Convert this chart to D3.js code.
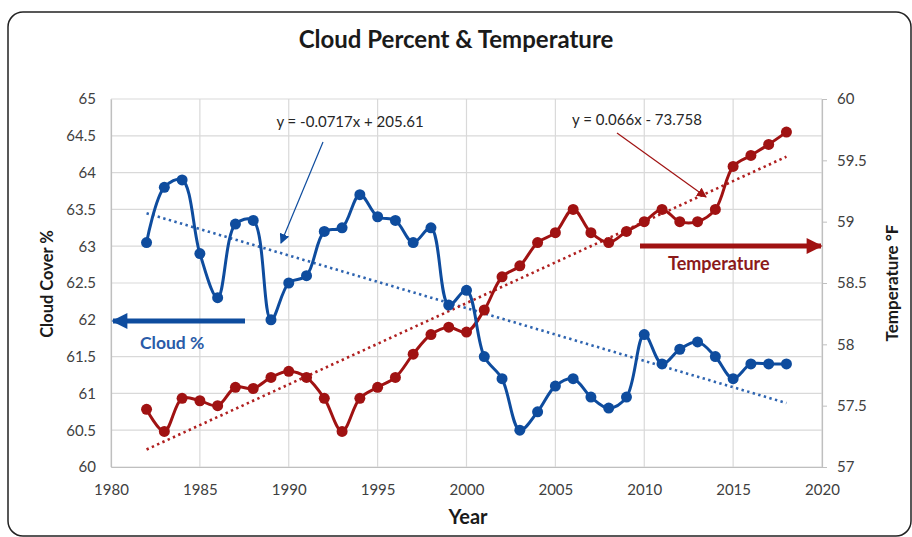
<!DOCTYPE html>
<html><head><meta charset="utf-8">
<script src="https://cdn.jsdelivr.net/npm/d3@7/dist/d3.min.js"></script>
<style>body{margin:0;background:#fff}svg{display:block}</style>
</head><body>
<svg id="c" width="912" height="537"></svg>
<script>
const years = d3.range(1982, 2019);
const cloud = [63.05,63.8,63.9,62.9,62.3,63.3,63.35,62.0,62.5,62.6,63.2,63.25,63.7,63.4,63.35,63.05,63.25,62.2,62.4,61.5,61.2,60.5,60.75,61.1,61.2,60.95,60.8,60.95,61.8,61.4,61.6,61.7,61.5,61.2,61.4,61.4,61.4];
const temp = [57.47,57.29,57.56,57.54,57.5,57.65,57.64,57.73,57.78,57.73,57.56,57.29,57.56,57.65,57.73,57.92,58.08,58.14,58.1,58.28,58.55,58.64,58.83,58.91,59.1,58.91,58.83,58.92,59.0,59.1,59.0,59.0,59.1,59.45,59.54,59.63,59.73];
const xTicks = [1980,1985,1990,1995,2000,2005,2010,2015,2020];
const leftTicks = [60,60.5,61,61.5,62,62.5,63,63.5,64,64.5,65];
const rightTicks = [57,57.5,58,58.5,59,59.5,60];
const title = "Cloud Percent & Temperature";
const cloudEq = "y = -0.0717x + 205.61";
const tempEq = "y = 0.066x - 73.758";

const blue = "#0E4C9E", red = "#A01212";
const svg = d3.select("#c");
const L = 111, R = 822, T = 99, B = 467;
const x = d3.scaleLinear().domain([1980,2020]).range([L,R]);
const yL = d3.scaleLinear().domain([60,65]).range([B,T]);
const yR = d3.scaleLinear().domain([57,60]).range([B,T]);
const font = "Lato, 'Open Sans', sans-serif";

// outer frame
svg.append("rect").attr("x",8).attr("y",12).attr("width",903).attr("height",524).attr("rx",15)
  .attr("fill","#fff").attr("stroke","#222").attr("stroke-width",1.5);

const defs = svg.append("defs");
function marker(id, color, w, h){
  defs.append("marker").attr("id",id).attr("viewBox","0 0 10 10").attr("refX",9).attr("refY",5)
    .attr("markerWidth",w).attr("markerHeight",h).attr("markerUnits","userSpaceOnUse").attr("orient","auto")
    .append("path").attr("d","M0,0L10,5L0,10z").attr("fill",color);
}
marker("ab", blue, 10, 10); marker("ar", red, 10, 10);
marker("abB", blue, 20, 16); marker("arB", red, 20, 16);

// grid
svg.append("g").selectAll("line").data(leftTicks).join("line")
  .attr("x1",L).attr("x2",R).attr("y1",d=>yL(d)).attr("y2",d=>yL(d))
  .attr("stroke","#d9d9d9").attr("stroke-width",1.2);
svg.append("g").selectAll("line").data(xTicks).join("line")
  .attr("x1",d=>x(d)).attr("x2",d=>x(d)).attr("y1",T).attr("y2",B)
  .attr("stroke","#d9d9d9").attr("stroke-width",1.2);

// axes
const axL = svg.append("g").attr("transform",`translate(${L},0)`).call(d3.axisLeft(yL).tickValues(leftTicks).tickSize(0).tickPadding(15).tickFormat(d3.format("")));
const axB = svg.append("g").attr("transform",`translate(0,${B})`).call(d3.axisBottom(x).tickValues(xTicks).tickSize(0).tickPadding(17).tickFormat(d3.format("")));
const axR = svg.append("g").attr("transform",`translate(${R},0)`).call(d3.axisRight(yR).tickValues(rightTicks).tickSize(5).tickPadding(10).tickFormat(d3.format("")));
[axL,axB,axR].forEach(a=>{
  a.selectAll("path.domain").attr("stroke","#bfbfbf").attr("stroke-width",1.2);
  a.selectAll(".tick line").attr("stroke","#bfbfbf");
  a.selectAll("text").attr("font-family",font).attr("font-size",15).attr("fill","#404040");
});

// trendlines (least squares)
function fit(xs, ys){
  const mx=d3.mean(xs), my=d3.mean(ys);
  const b=d3.sum(xs,(v,i)=>(v-mx)*(ys[i]-my))/d3.sum(xs,v=>(v-mx)*(v-mx));
  return v=>my+b*(v-mx);
}
const fc = fit(years, cloud), ft = fit(years, temp);
const ends = [years[0], years[years.length-1]];
svg.append("path").attr("d", d3.line().x(d=>x(d)).y(d=>yL(fc(d)))(ends))
  .attr("stroke","#2E64B0").attr("stroke-width",2.6).attr("stroke-dasharray","2.4,3.4").attr("fill","none");
svg.append("path").attr("d", d3.line().x(d=>x(d)).y(d=>yR(ft(d)))(ends))
  .attr("stroke","#B02020").attr("stroke-width",2.6).attr("stroke-dasharray","2.4,3.4").attr("fill","none");

// series
const curve = d3.curveCatmullRom.alpha(0.5);
svg.append("path").datum(years).attr("d", d3.line().curve(curve).x(d=>x(d)).y((d,i)=>yR(temp[i])))
  .attr("fill","none").attr("stroke",red).attr("stroke-width",3);
svg.append("g").selectAll("circle").data(years).join("circle")
  .attr("cx",d=>x(d)).attr("cy",(d,i)=>yR(temp[i])).attr("r",5.5).attr("fill",red);
svg.append("path").datum(years).attr("d", d3.line().curve(curve).x(d=>x(d)).y((d,i)=>yL(cloud[i])))
  .attr("fill","none").attr("stroke",blue).attr("stroke-width",3);
svg.append("g").selectAll("circle").data(years).join("circle")
  .attr("cx",d=>x(d)).attr("cy",(d,i)=>yL(cloud[i])).attr("r",5.5).attr("fill",blue);

// titles
svg.append("text").attr("x",456).attr("y",48).attr("text-anchor","middle").attr("font-family",font)
  .attr("font-weight","bold").attr("font-size",24).attr("fill","#1a1a1a").text(title);
svg.append("text").attr("transform","translate(53,284) rotate(-90)").attr("text-anchor","middle").attr("font-family",font)
  .attr("font-weight","bold").attr("font-size",16.5).attr("fill","#1a1a1a").text("Cloud Cover %");
svg.append("text").attr("transform","translate(898,283) rotate(-90)").attr("text-anchor","middle").attr("font-family",font)
  .attr("font-weight","bold").attr("font-size",17).attr("fill","#1a1a1a").text("Temperature °F");
svg.append("text").attr("x",468).attr("y",524).attr("text-anchor","middle").attr("font-family",font)
  .attr("font-weight","bold").attr("font-size",20).attr("fill","#1a1a1a").text("Year");

// equations
svg.append("text").attr("x",350).attr("y",127).attr("text-anchor","middle").attr("font-family",font)
  .attr("font-size",15).attr("fill","#262626").text(cloudEq);
svg.append("text").attr("x",637).attr("y",125).attr("text-anchor","middle").attr("font-family",font)
  .attr("font-size",15).attr("fill","#262626").text(tempEq);
svg.append("line").attr("x1",323).attr("y1",142).attr("x2",281).attr("y2",243)
  .attr("stroke",blue).attr("stroke-width",1.2).attr("marker-end","url(#ab)");
svg.append("line").attr("x1",617).attr("y1",133).attr("x2",706).attr("y2",197)
  .attr("stroke",red).attr("stroke-width",1.2).attr("marker-end","url(#ar)");

// big arrows
svg.append("line").attr("x1",245).attr("y1",321).attr("x2",113).attr("y2",321)
  .attr("stroke",blue).attr("stroke-width",5).attr("marker-end","url(#abB)");
svg.append("text").attr("x",140).attr("y",349).attr("font-family",font).attr("font-weight","bold")
  .attr("font-size",17.5).attr("fill","#2A5BA8").text("Cloud %");
svg.append("line").attr("x1",640).attr("y1",246).attr("x2",821).attr("y2",246)
  .attr("stroke",red).attr("stroke-width",5).attr("marker-end","url(#arB)");
svg.append("text").attr("x",668).attr("y",270).attr("font-family",font).attr("font-weight","bold")
  .attr("font-size",18).attr("fill","#8B1A1A").text("Temperature");
</script>
</body></html>
